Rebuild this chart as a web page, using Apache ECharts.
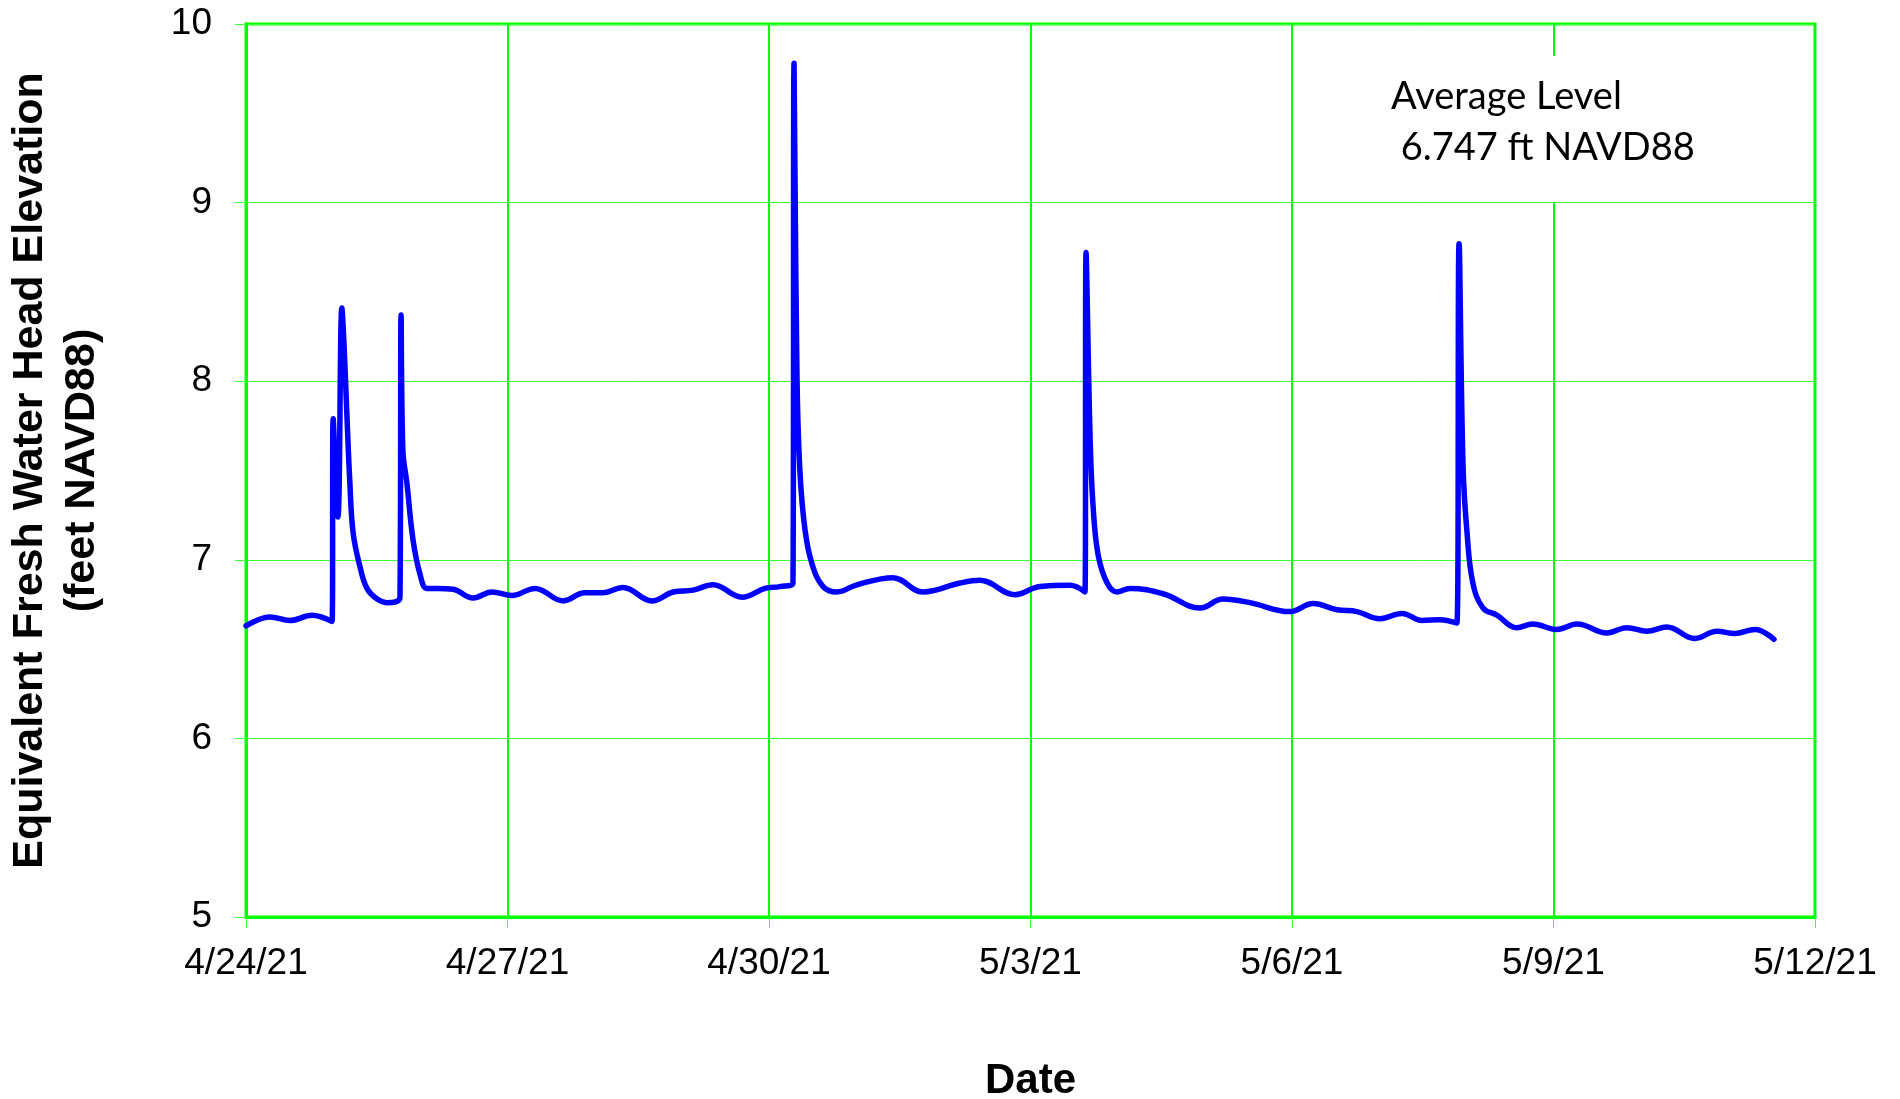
<!DOCTYPE html>
<html>
<head>
<meta charset="utf-8">
<title>Equivalent Fresh Water Head Elevation</title>
<script src="https://cdn.jsdelivr.net/npm/echarts@6/dist/echarts.min.js"></script>
<style>
  html, body { margin: 0; padding: 0; background: #ffffff; }
  #chart { width: 1900px; height: 1099px; }
</style>
</head>
<body>
<div id="chart"></div>
<script>
// Logger record: timestamp of each reading
const readingTimes = [
  '2021-04-24T00:00', '2021-04-24T06:36', '2021-04-24T12:06', '2021-04-24T18:12', '2021-04-24T23:42',
  '2021-04-25T00:00', '2021-04-25T01:18', '2021-04-25T02:24', '2021-04-25T03:00', '2021-04-25T03:48',
  '2021-04-25T04:36', '2021-04-25T05:30', '2021-04-25T07:24', '2021-04-25T09:18', '2021-04-25T12:06',
  '2021-04-25T14:48', '2021-04-25T18:24', '2021-04-25T18:42', '2021-04-25T19:12', '2021-04-25T20:18',
  '2021-04-25T22:00', '2021-04-25T23:54', '2021-04-26T01:48', '2021-04-26T04:36', '2021-04-26T09:00',
  '2021-04-26T14:30', '2021-04-26T19:42', '2021-04-27T01:12', '2021-04-27T07:36', '2021-04-27T15:18',
  '2021-04-27T21:18', '2021-04-28T02:18', '2021-04-28T07:48', '2021-04-28T15:48', '2021-04-28T21:36',
  '2021-04-29T03:06', '2021-04-29T08:36', '2021-04-29T16:36', '2021-04-29T22:54', '2021-04-30T03:00',
  '2021-04-30T06:36', '2021-04-30T06:54', '2021-04-30T07:42', '2021-04-30T08:30', '2021-04-30T09:54',
  '2021-04-30T11:48', '2021-04-30T14:54', '2021-04-30T18:42', '2021-05-01T00:12', '2021-05-01T10:06',
  '2021-05-01T18:24', '2021-05-02T04:36', '2021-05-02T10:06', '2021-05-02T19:42', '2021-05-03T02:36',
  '2021-05-03T10:54', '2021-05-03T15:00', '2021-05-03T15:18', '2021-05-03T16:24', '2021-05-03T17:12',
  '2021-05-03T18:36', '2021-05-03T21:06', '2021-05-03T23:48', '2021-05-04T03:24', '2021-05-04T12:30',
  '2021-05-04T22:42', '2021-05-05T05:00', '2021-05-05T12:24', '2021-05-05T23:24', '2021-05-06T05:48',
  '2021-05-06T12:24', '2021-05-06T17:54', '2021-05-07T00:12', '2021-05-07T06:18', '2021-05-07T11:48',
  '2021-05-07T16:42', '2021-05-07T21:24', '2021-05-07T22:00', '2021-05-07T23:06', '2021-05-08T00:12',
  '2021-05-08T01:48', '2021-05-08T04:36', '2021-05-08T08:24', '2021-05-08T13:54', '2021-05-08T18:18',
  '2021-05-09T00:54', '2021-05-09T06:30', '2021-05-09T14:42', '2021-05-09T20:12', '2021-05-10T01:42',
  '2021-05-10T07:12', '2021-05-10T14:54', '2021-05-10T21:00', '2021-05-11T01:54', '2021-05-11T07:30',
  '2021-05-11T12:42'
];

// Equivalent fresh water head, feet NAVD88
const headElevationFt = [
  6.63, 6.68, 6.66, 6.69, 6.655,
  7.79, 7.24, 8.41, 8.20, 7.80,
  7.43, 7.15, 6.96, 6.84, 6.78,
  6.76, 6.79, 8.37, 7.61, 7.43,
  7.11, 6.92, 6.84, 6.84, 6.835,
  6.786, 6.82, 6.80, 6.84, 6.77,
  6.815, 6.815, 6.845, 6.77, 6.82,
  6.83, 6.86, 6.79, 6.84, 6.85,
  6.87, 9.78, 8.03, 7.50, 7.17,
  6.98, 6.85, 6.82, 6.86, 6.90,
  6.82, 6.87, 6.885, 6.805, 6.85,
  6.857, 6.82, 8.72, 7.69, 7.31,
  7.03, 6.87, 6.82, 6.84, 6.81,
  6.73, 6.78, 6.76, 6.71, 6.755,
  6.72, 6.71, 6.67, 6.70, 6.66,
  6.665, 6.646, 8.77, 7.52, 7.15,
  6.87, 6.73, 6.69, 6.62, 6.64,
  6.61, 6.64, 6.59, 6.62, 6.60,
  6.624, 6.56, 6.60, 6.587, 6.61,
  6.555
];

const axisStart = '2021-04-24T00:00';
const xTickLabels = ['4/24/21', '4/27/21', '4/30/21', '5/3/21', '5/6/21', '5/9/21', '5/12/21'];
const xTickStepDays = 3;
const yMin = 5, yMax = 10, yStep = 1;
const noteLines = ['Average Level', ' 6.747 ft NAVD88'];

// x positions are days elapsed since the start of the axis
const t0 = Date.parse(axisStart);
const seriesData = readingTimes.map((t, i) => [(Date.parse(t) - t0) / 86400000, headElevationFt[i]]);

const GREEN = '#00ff00';
const GRID_GREEN = '#3cff3c';
const FONT = "'Liberation Sans', Arial, sans-serif";
const NOTE_FONT = "38px Lato, 'Open Sans', sans-serif";

const chart = echarts.init(document.getElementById('chart'), null, { renderer: 'canvas' });
chart.setOption({
  animation: false,
  backgroundColor: '#ffffff',
  grid: {
    left: 246, right: 85, top: 24, bottom: 182,
    containLabel: false,
    outerBoundsMode: 'none',
    show: true, borderColor: GREEN, borderWidth: 3, backgroundColor: 'transparent'
  },
  xAxis: {
    type: 'value',
    min: 0,
    max: (xTickLabels.length - 1) * xTickStepDays,
    interval: xTickStepDays,
    name: 'Date',
    nameLocation: 'middle',
    nameGap: 143,
    nameTextStyle: { fontFamily: FONT, fontSize: 42, fontWeight: 'bold', color: '#000', lineHeight: 42 },
    axisLine: { show: true, lineStyle: { color: GREEN, width: 3 } },
    axisTick: { show: true, length: 11, lineStyle: { color: GRID_GREEN, width: 1 } },
    splitLine: { show: true, lineStyle: { color: GREEN, width: 2 } },
    axisLabel: {
      margin: 28,
      fontFamily: FONT, fontSize: 37, color: '#000',
      formatter: v => xTickLabels[Math.round(v / xTickStepDays)] || ''
    }
  },
  yAxis: {
    type: 'value',
    min: yMin, max: yMax, interval: yStep,
    name: 'Equivalent Fresh Water Head Elevation\n(feet NAVD88)',
    nameLocation: 'middle',
    nameRotate: 90,
    nameGap: 138,
    nameTextStyle: { fontFamily: FONT, fontSize: 43, fontWeight: 'bold', color: '#000', lineHeight: 52, align: 'center' },
    axisLine: { show: true, lineStyle: { color: GREEN, width: 3 } },
    axisTick: { show: true, length: 11, lineStyle: { color: GRID_GREEN, width: 1 } },
    splitLine: { show: true, lineStyle: { color: GRID_GREEN, width: 1 } },
    axisLabel: { margin: 34, fontFamily: FONT, fontSize: 37, color: '#000' }
  },
  series: [{
    type: 'line',
    data: seriesData,
    showSymbol: false,
    smooth: 0.4,
    lineStyle: { color: '#0000ff', width: 5.5, join: 'round', cap: 'round' },
    z: 3
  }],
  graphic: [
    {
      type: 'rect', left: 1371, top: 56, z: 10,
      shape: { width: 420, height: 146 },
      style: { fill: '#ffffff' }
    },
    {
      type: 'text', left: 1391, top: 78, z: 11,
      style: { text: noteLines[0], font: NOTE_FONT, fill: '#000' }
    },
    {
      type: 'text', left: 1391, top: 129, z: 11,
      style: { text: noteLines[1], font: NOTE_FONT, fill: '#000' }
    }
  ]
});
</script>
</body>
</html>
